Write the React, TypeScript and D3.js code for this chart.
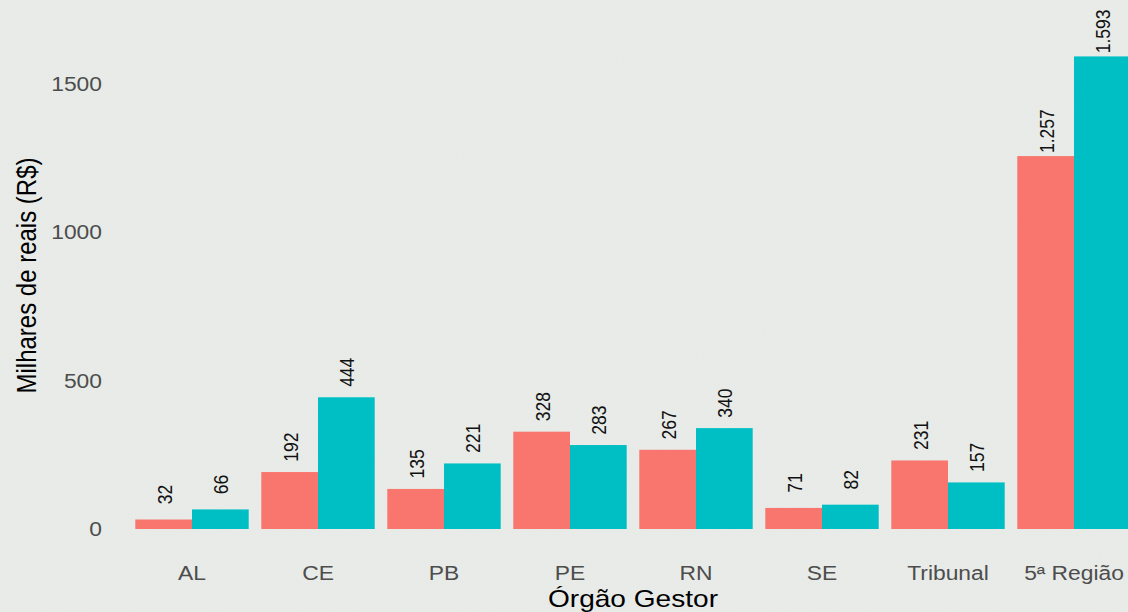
import React from "react";
import * as d3 from "d3";

const categories = ["AL", "CE", "PB", "PE", "RN", "SE", "Tribunal", "5ª Região"];
const seriesNames = ["A", "B"];
const seriesA = [32, 192, 135, 328, 267, 71, 231, 1257];
const seriesB = [66, 444, 221, 283, 340, 82, 157, 1593];
const seriesColors = ["#F8766D", "#00BFC4"];
const labelsA = ["32", "192", "135", "328", "267", "71", "231", "1.257"];
const labelsB = ["66", "444", "221", "283", "340", "82", "157", "1.593"];
const yTicks = [0, 500, 1000, 1500];

const W = 1128;
const H = 612;
const SX = 1.17;
const FONT = "'Liberation Sans', Arial, sans-serif";

export default function App() {
  const x = d3
    .scaleBand<string>()
    .domain(categories)
    .range([129, 1137])
    .paddingInner(0.1)
    .paddingOuter(0.05);
  const xi = d3.scaleBand<string>().domain(seriesNames).range([0, x.bandwidth()]);
  const y = d3.scaleLinear().domain([0, 1500]).range([529, 84]);

  const series = [
    { name: seriesNames[0], values: seriesA, labels: labelsA, color: seriesColors[0] },
    { name: seriesNames[1], values: seriesB, labels: labelsB, color: seriesColors[1] },
  ];

  return (
    <svg
      width={W}
      height={H}
      style={{ position: "absolute", left: 0, top: 0, display: "block" }}
      fontFamily={FONT}
    >
      <defs>
        <filter id="paper" x="0" y="0" width="100%" height="100%">
          <feTurbulence type="fractalNoise" baseFrequency="0.9" numOctaves="2" seed="3" result="n" />
          <feColorMatrix
            in="n"
            type="matrix"
            values="0 0 0 0 0.55  0 0 0 0 0.58  0 0 0 0 0.55  0 0 0 0.12 0"
          />
        </filter>
      </defs>
      <rect x={0} y={0} width={W} height={H} fill="#e9ece9" />
      <rect x={0} y={0} width={W} height={H} filter="url(#paper)" opacity={0.5} />

      {/* y tick labels */}
      {yTicks.map((t) => (
        <text
          key={t}
          transform={`translate(102,${y(t)}) scale(${SX},1)`}
          textAnchor="end"
          dominantBaseline="central"
          fontSize={19.5}
          fill="#4d4d4d"
        >
          {t}
        </text>
      ))}

      {/* bars */}
      {series.map((s) =>
        categories.map((c, i) => {
          const bx = (x(c) ?? 0) + (xi(s.name) ?? 0);
          const top = y(s.values[i]);
          return (
            <rect
              key={s.name + c}
              x={bx}
              y={top}
              width={xi.bandwidth()}
              height={y(0) - top}
              fill={s.color}
            />
          );
        })
      )}

      {/* value labels */}
      {series.map((s) =>
        categories.map((c, i) => {
          const cx = (x(c) ?? 0) + (xi(s.name) ?? 0) + xi.bandwidth() / 2 + 1;
          const cy = y(s.values[i]) - 25;
          return (
            <text
              key={"l" + s.name + c}
              transform={`translate(${cx},${cy}) scale(${SX},1) rotate(-90)`}
              textAnchor="middle"
              dominantBaseline="central"
              fontSize={17.5}
              fill="#111"
            >
              {s.labels[i]}
            </text>
          );
        })
      )}

      {/* x tick labels */}
      {categories.map((c) => (
        <text
          key={"x" + c}
          transform={`translate(${(x(c) ?? 0) + x.bandwidth() / 2},580) scale(${SX},1)`}
          textAnchor="middle"
          fontSize={19.5}
          fill="#4d4d4d"
        >
          {c}
        </text>
      ))}

      {/* axis titles */}
      <text
        transform={`translate(633,606.5) scale(${SX},1)`}
        textAnchor="middle"
        fontSize={24}
        fill="#000"
      >
        Órgão Gestor
      </text>
      <text
        transform={`translate(36,275.5) scale(${SX},1) rotate(-90)`}
        textAnchor="middle"
        fontSize={24}
        fill="#000"
      >
        Milhares de reais (R$)
      </text>
    </svg>
  );
}
